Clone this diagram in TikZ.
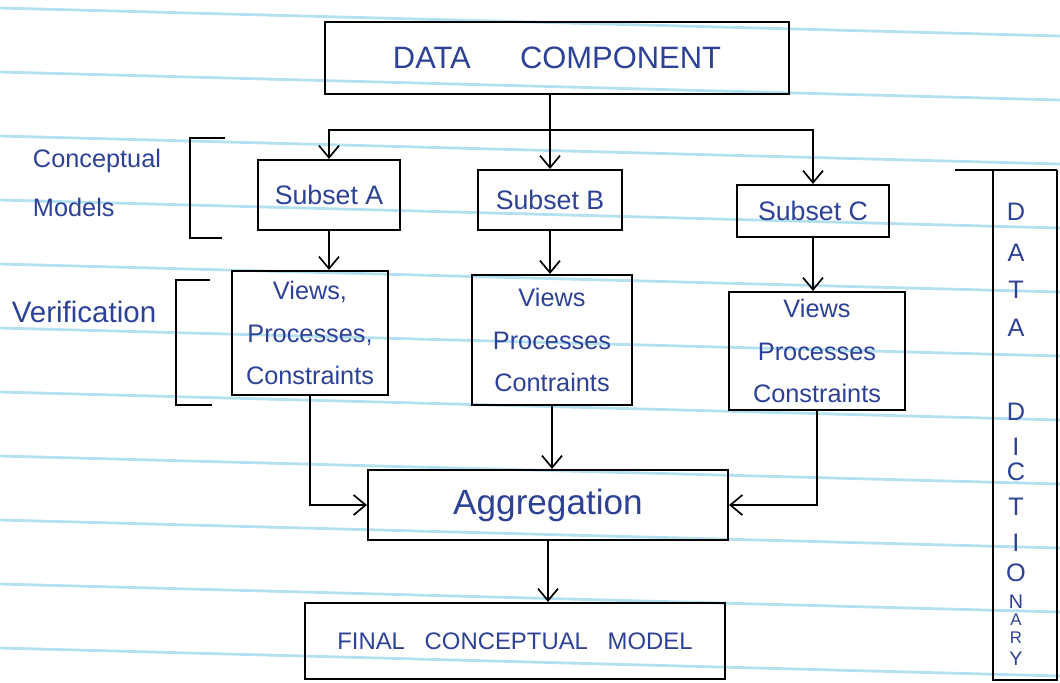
\documentclass[tikz,border=0pt]{standalone}
\usepackage{fontspec}
\setmainfont{Liberation Sans}
\usetikzlibrary{arrows.meta}
\definecolor{ink}{RGB}{45,65,150}
\definecolor{paperline}{RGB}{180,225,240}

\begin{document}
\begin{tikzpicture}[x=0.25mm,y=-0.25mm,
	box/.style={draw,line width=1.5pt,text=ink,align=center,inner sep=2pt},
	inklabel/.style={text=ink,align=left},
	link/.style={line width=1.2pt,-{Straight Barb[length=3mm,width=5mm]}}]
	\useasboundingbox (0,0) rectangle (1060,682);
	
	%ruled paper
	\foreach \y in {8,72,...,648}
		\draw[paperline,line width=2pt] (0,\y) -- (1060,\y+28);
	
	%boxes
	\node[box,minimum width=116mm,minimum height=18mm,font=\fontsize{22}{26}\selectfont] (dc) at (557,58) {DATA\hspace{35pt}COMPONENT};
	\node[box,minimum width=35.5mm,minimum height=17.5mm,font=\fontsize{19}{23}\selectfont] (sa) at (329,195) {Subset A};
	\node[box,minimum width=36mm,minimum height=15mm,font=\fontsize{19}{23}\selectfont] (sb) at (550,200) {Subset B};
	\node[box,minimum width=38mm,minimum height=13mm,font=\fontsize{19}{23}\selectfont] (sc) at (813,211) {Subset C};
	\node[box,minimum width=39mm,minimum height=31mm,font=\fontsize{18}{30}\selectfont] (va) at (310,333) {Views,\\Processes,\\Constraints};
	\node[box,minimum width=40mm,minimum height=32.5mm,font=\fontsize{18}{30}\selectfont] (vb) at (552,340) {Views\\Processes\\Contraints};
	\node[box,minimum width=44mm,minimum height=29.5mm,font=\fontsize{18}{30}\selectfont] (vc) at (817,351) {Views\\Processes\\Constraints};
	\node[box,minimum width=90mm,minimum height=17.5mm,font=\fontsize{25}{30}\selectfont] (ag) at (548,505) {Aggregation};
	\node[box,minimum width=105mm,minimum height=19mm,font=\fontsize{17}{20}\selectfont] (fm) at (515,641) {FINAL\hspace{14pt}CONCEPTUAL\hspace{14pt}MODEL};
	
	%side labels
	\node[inklabel,font=\fontsize{18}{35}\selectfont] (cm) at (97,183) {Conceptual\\Models};
	\node[inklabel,font=\fontsize{21}{25}\selectfont] (vf) at (84,312) {Verification};
	
	%brackets
	\draw[line width=1.5pt] (225,138) -- (190,138) -- (190,238) -- (222,238);
	\draw[line width=1.5pt] (210,280) -- (176,280) -- (176,405) -- (212,405);
	
	%data dictionary
	\draw[line width=1.5pt] (955,170) -- (1057,170);
	\draw[line width=1.5pt] (993,170) -- (993,680) -- (1057,680) -- (1057,170);
	\foreach \l/\y/\s [count=\i] in {D/212/18,A/253/18,T/290/18,A/328/18,D/412/18,I/447/18,C/472/18,T/507/18,I/543/18,O/573/18,N/602/14,A/620/12,R/638/12,Y/659/14}
		\node[text=ink,font=\fontsize{\s}{\s}\selectfont,inner sep=0pt] (dd\i) at (1016,\y) {\l};
	
	%arrows
	\coordinate (split) at (550,130);
	\draw[link] (sb.north |- dc.south) -- (sb.north);
	\draw[link] (split) -| (sa.north);
	\draw[link] (split) -| (sc.north);
	\draw[link] (sa.south) -- (sa.south |- va.north);
	\draw[link] (sb.south) -- (sb.south |- vb.north);
	\draw[link] (sc.south) -- (sc.south |- vc.north);
	\draw[link] (va.south) |- (ag.west);
	\draw[link] (vb.south) -- (vb.south |- ag.north);
	\draw[link] (vc.south) |- (ag.east);
	\draw[link] (ag.south) -- (ag.south |- fm.north);
\end{tikzpicture}
\end{document}
